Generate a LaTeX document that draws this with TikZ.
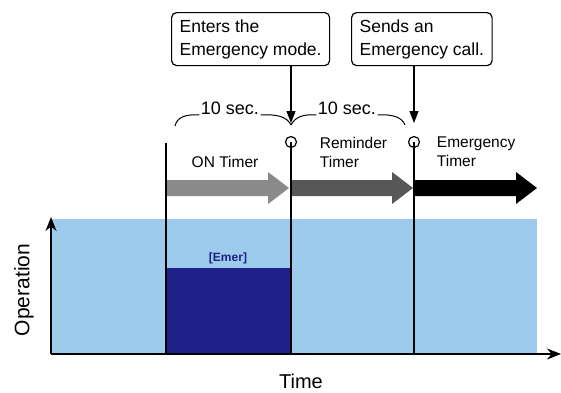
\documentclass[tikz,border=0pt]{standalone}
\usepackage{fontspec}
\setmainfont{Liberation Sans}
\usepackage{tikz}
\usetikzlibrary{arrows.meta}
\definecolor{opblue}{HTML}{9DCBEB}
\definecolor{emerblue}{HTML}{1E1F87}
\definecolor{ongray}{HTML}{8A8A8A}
\definecolor{remgray}{HTML}{575757}

\begin{document}
\begin{tikzpicture}[x=1pt,y=-1pt,line width=1.2pt,
    callout/.style={draw,rounded corners=5pt,align=left,anchor=north west,
      minimum height=53pt,inner xsep=8pt,font=\fontsize{17.5}{23}\selectfont},
    timer/.style={align=left,font=\fontsize{15.5}{19}\selectfont},
    mark point/.style={draw,circle,minimum size=11pt,inner sep=0pt},
    pointer/.style={-{Triangle[length=12pt,width=9pt]}},
    axis/.style={-{Stealth[length=14pt,width=11pt]}}]
  \useasboundingbox (0,0) rectangle (561,392);
  \fill[opblue] (51,219) rectangle (537,354);
  \fill[emerblue] (166,268) rectangle (291,354);
  \node[font=\bfseries\fontsize{12}{14}\selectfont,text=emerblue] (emer) at (228,258) {[Emer]};
  \foreach \xa/\xb/\col in {166/289/ongray,291/413/remgray,414/537/black}
    \fill[\col] (\xa,180) -- (\xb-21,180) -- (\xb-21,172) -- (\xb,188)
      -- (\xb-21,204) -- (\xb-21,196) -- (\xa,196) -- cycle;
  \coordinate (O) at (51,354);
  \coordinate (start) at (166,143);
  \node[mark point] (c1) at (291,142) {};
  \node[mark point] (c2) at (414,142) {};
  \draw (start) -- (start |- O);
  \draw (c1.center) -- (c1 |- O);
  \draw (c2.center) -- (c2 |- O);
  \draw[axis] (O) -- (51,217);
  \draw[axis] (O) -- (561,354);
  \node[font=\fontsize{20}{24}\selectfont,inner sep=1pt] (time) at (301,381) {Time};
  \node[font=\fontsize{21}{25}\selectfont,rotate=90] (oper) at (24,290) {Operation};
  \node[timer] (ontimer) at (225,162) {ON Timer};
  \node[timer,anchor=west] (remtimer) at (316,152) {Reminder\\Timer};
  \node[timer,anchor=west] (emtimer) at (433,152) {Emergency\\Timer};
  \node[callout] (enter) at (171,12) {Enters the\\Emergency mode.};
  \node[callout] (send) at (351,12) {Sends an\\Emergency call.};
  \coordinate (k0) at (175,126);
  \coordinate (k1) at (291,125);
  \coordinate (k2) at (405,125);
  \coordinate (t1) at (291,123);
  \coordinate (t2) at (414,123);
  \draw[pointer] (enter.south -| t1) -- (t1);
  \draw[pointer] (send.south -| t2) -- (t2);
  \node[inner sep=0pt,font=\fontsize{18}{22}\selectfont] (sec1) at (230,108) {10 sec.};
  \node[inner sep=0pt,font=\fontsize{18}{22}\selectfont] (sec2) at (347,108) {10 sec.};
  \draw[line width=1pt] (k0) .. controls (177,117) and (186,114) .. ([xshift=-1pt]sec1.south west);
  \draw[line width=1pt] ([xshift=1pt]sec1.south east) .. controls (278,114) and (287,117) .. (k1);
  \draw[line width=1pt] (k1) .. controls (295,117) and (303,114) .. ([xshift=-1pt]sec2.south west);
  \draw[line width=1pt] ([xshift=1pt]sec2.south east) .. controls (392,114) and (402,117) .. (k2);
\end{tikzpicture}
\end{document}
